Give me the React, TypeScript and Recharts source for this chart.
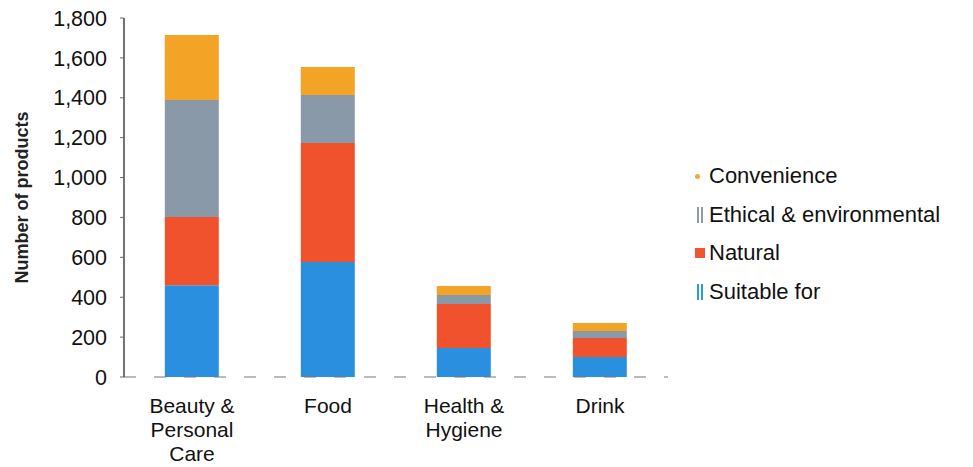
import { BarChart, Bar, XAxis, YAxis } from 'recharts'

const categories = ['Beauty & Personal Care', 'Food', 'Health & Hygiene', 'Drink']
const categoryLines = [['Beauty &', 'Personal', 'Care'], ['Food'], ['Health &', 'Hygiene'], ['Drink']]
const suitableFor = [460, 577, 145, 100]
const natural = [342, 596, 221, 96]
const ethical = [587, 241, 45, 35]
const convenience = [326, 140, 45, 40]
const yTicks = [0, 200, 400, 600, 800, 1000, 1200, 1400, 1600, 1800]

const data = categories.map((c, i) => ({
  category: c,
  suitable: suitableFor[i],
  natural: natural[i],
  ethical: ethical[i],
  convenience: convenience[i],
}))

const FONT = '"Liberation Sans", Arial, sans-serif'

const legendItems = [
  { label: 'Convenience', color: '#f0a93a', shape: 'dot' },
  { label: 'Ethical & environmental', color: '#8b9bab', shape: 'bar' },
  { label: 'Natural', color: '#ef5533', shape: 'square' },
  { label: 'Suitable for', color: '#2b9be0', shape: 'bar' },
]

function CategoryTick(props: any) {
  const { x, y, index } = props
  const lines = categoryLines[index] || []
  return (
    <g transform={`translate(${x},${y})`}>
      {lines.map((t, i) => (
        <text key={i} x={0} y={28 + i * 24} textAnchor="middle" fontSize={21} fill="#111" fontFamily={FONT}>
          {t}
        </text>
      ))}
    </g>
  )
}

function LegendBox() {
  return (
    <div style={{ position: 'absolute', left: 694, top: 157, fontFamily: FONT, fontSize: 22, color: '#111' }}>
      {legendItems.map((it) => (
        <div key={it.label} style={{ display: 'flex', alignItems: 'center', height: 38.5 }}>
          <span style={{ width: 12, display: 'inline-flex', justifyContent: 'center', marginRight: 3 }}>
            {it.shape === 'dot' && (
              <span style={{ width: 5, height: 5, borderRadius: 3, background: it.color, marginRight: 6 }} />
            )}
            {it.shape === 'square' && <span style={{ width: 10, height: 10, background: it.color }} />}
            {it.shape === 'bar' && (
              <span style={{ display: 'inline-flex', gap: 2 }}>
                <span style={{ width: 2, height: 16, background: it.color }} />
                <span style={{ width: 2, height: 16, background: it.color }} />
              </span>
            )}
          </span>
          <span>{it.label}</span>
        </div>
      ))}
    </div>
  )
}

export default function App() {
  return (
    <div style={{ position: 'absolute', left: 0, top: 0, width: 973, height: 467, background: '#fff' }}>
      <BarChart
        width={973}
        height={467}
        data={data}
        barCategoryGap="30%"
        margin={{ top: 18, right: 305, bottom: 60, left: 64 }}
      >
        <XAxis
          dataKey="category"
          tick={<CategoryTick />}
          tickLine={false}
          axisLine={{ stroke: '#777', strokeDasharray: '12 18' }}
          interval={0}
          height={30}
        />
        <YAxis
          width={60}
          domain={[0, 1800]}
          ticks={yTicks}
          tickFormatter={(v: number) => v.toLocaleString('en-US')}
          tick={{ fontSize: 21.5, fill: '#111', fontFamily: FONT }}
          tickSize={4}
          tickMargin={13}
          axisLine={{ stroke: '#444', strokeWidth: 1.5 }}
          tickLine={{ stroke: '#666' }}
          label={{
            value: 'Number of products',
            angle: -90,
            position: 'insideLeft',
            offset: -42,
            style: { fontSize: 18, fontWeight: 'bold', fill: '#222', fontFamily: FONT, textAnchor: 'middle' },
          }}
        />
        <Bar dataKey="suitable" stackId="a" fill="#2b8fdf" isAnimationActive={false} />
        <Bar dataKey="natural" stackId="a" fill="#f0522e" isAnimationActive={false} />
        <Bar dataKey="ethical" stackId="a" fill="#8a99a8" isAnimationActive={false} />
        <Bar dataKey="convenience" stackId="a" fill="#f3a326" isAnimationActive={false} />
      </BarChart>
      <LegendBox />
    </div>
  )
}
